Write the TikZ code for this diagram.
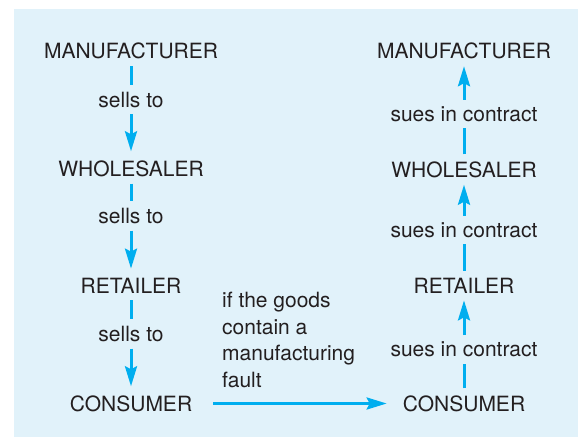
\documentclass[tikz,border=0pt]{standalone}
\usepackage{fontspec}
\setmainfont{TeX Gyre Heros}
\usetikzlibrary{arrows.meta}
\definecolor{panelblue}{HTML}{E1F2FA}
\definecolor{linkblue}{HTML}{00AEEF}
\definecolor{inkgray}{HTML}{231F20}

\begin{document}
\begin{tikzpicture}[x=1pt,y=-1pt,>={Stealth[length=20pt,width=12pt,inset=3pt]},
  font=\fontsize{21}{26.5}\selectfont,text=inkgray,
  party/.style={inner xsep=6pt,inner ysep=7pt},
  deal/.style={inner xsep=6pt,inner ysep=6.5pt},
  link/.style={linkblue,line width=3pt}]
\useasboundingbox (0,0) rectangle (578,437);
\fill[panelblue] (14,9) rectangle (578,437);
\node[party] (mL) at (131,51) {MANUFACTURER};
\node[deal] (s1) at (131,99.5) {sells to};
\node[party] (wL) at (131,168.5) {WHOLESALER};
\node[deal] (s2) at (131,216) {sells to};
\node[party] (rL) at (131,285.5) {RETAILER};
\node[deal] (s3) at (131,334) {sells to};
\node[party] (cL) at (131,403.5) {CONSUMER};
\node[party] (mR) at (464,51) {MANUFACTURER};
\node[deal] (u1) at (464,114) {sues in contract};
\node[party] (wR) at (464,169.5) {WHOLESALER};
\node[deal] (u2) at (464,230) {sues in contract};
\node[party] (rR) at (464,285.5) {RETAILER};
\node[deal] (u3) at (464,349.5) {sues in contract};
\node[party] (cR) at (464,403.5) {CONSUMER};
\node[anchor=north west,align=left,inner sep=0pt] (fault) at (222,292) {if the goods\\contain a\\manufacturing\\fault};
\draw[link] (mL) -- (s1);
\draw[link,->,shorten >=2pt] (s1) -- (wL);
\draw[link] (wL) -- (s2);
\draw[link,->,shorten >=2pt] (s2) -- (rL);
\draw[link] (rL) -- (s3);
\draw[link,->,shorten >=2pt] (s3) -- (cL);
\draw[link] (cR) -- (u3);
\draw[link,->] (u3) -- (rR);
\draw[link] (rR) -- (u2);
\draw[link,->] (u2) -- (wR);
\draw[link] (wR) -- (u1);
\draw[link,->] (u1) -- (mR);
\draw[link,->,shorten <=15pt,shorten >=10pt] (cL) -- (cR);
\end{tikzpicture}
\end{document}
